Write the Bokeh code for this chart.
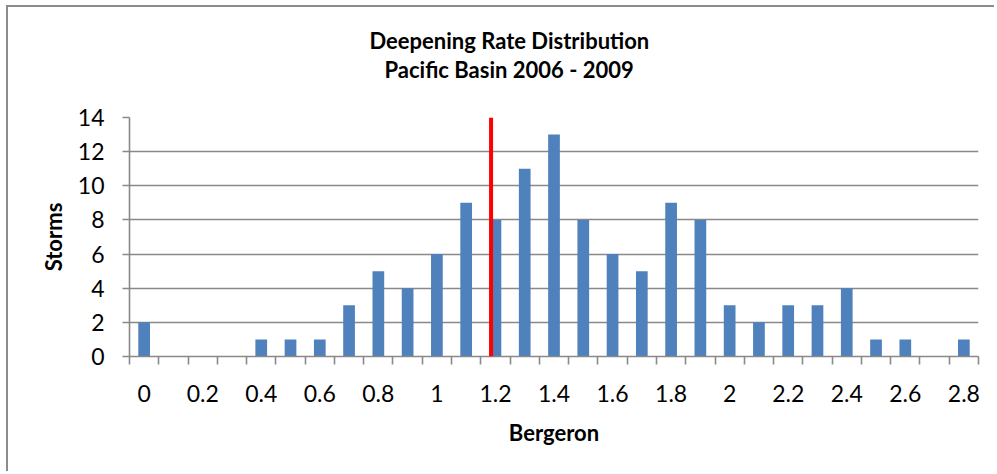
from bokeh.plotting import figure
from bokeh.models import Range1d, FixedTicker, CustomJSTickFormatter, Title, Span, ColumnDataSource
from bokeh.embed import file_html
from bokeh.resources import INLINE

# ---- data ----
bergeron = [0.0, 0.1, 0.2, 0.3, 0.4, 0.5, 0.6, 0.7, 0.8, 0.9,
            1.0, 1.1, 1.2, 1.3, 1.4, 1.5, 1.6, 1.7, 1.8, 1.9,
            2.0, 2.1, 2.2, 2.3, 2.4, 2.5, 2.6, 2.7, 2.8]
storms = [2, 0, 0, 0, 1, 1, 1, 3, 5, 4,
          6, 9, 8, 11, 13, 8, 6, 5, 9, 8,
          3, 2, 3, 3, 4, 1, 1, 0, 1]
x_tick_values = [0.0, 0.2, 0.4, 0.6, 0.8, 1.0, 1.2, 1.4, 1.6, 1.8, 2.0, 2.2, 2.4, 2.6, 2.8]
y_tick_values = [0, 2, 4, 6, 8, 10, 12, 14]
mean_bergeron = 1.185
title_lines = ["Deepening Rate Distribution", "Pacific Basin 2006 - 2009"]

FONT = "Lato"
GRAY = "#898989"

src = ColumnDataSource(dict(x=bergeron, top=storms))

p = figure(width=988, height=466, output_backend="svg", toolbar_location=None,
           title=None,
           x_range=Range1d(-0.05, 2.85), y_range=Range1d(0, 14),
           min_border_left=121, min_border_right=18, min_border_top=110, min_border_bottom=117)
p.outline_line_color = None
p.styles = {"border-top": "2px solid #8c8c8c", "border-left": "2px solid #8c8c8c",
            "margin-left": "6px", "margin-top": "5px"}

p.vbar(x="x", top="top", width=0.04, bottom=0, source=src,
       fill_color="#4F81BD", line_color=None)

p.add_layout(Span(location=mean_bergeron, dimension="height",
                  line_color="#FF0000", line_width=4))

# grid
p.xgrid.grid_line_color = None
p.ygrid.ticker = FixedTicker(ticks=y_tick_values)
p.ygrid.grid_line_color = GRAY
p.ygrid.grid_line_width = 1.6

# x axis
minor = [round(b - 0.05, 2) for b in bergeron] + [2.85]
xa = p.xaxis[0]
xa.ticker = FixedTicker(ticks=x_tick_values, minor_ticks=minor)
xa.formatter = CustomJSTickFormatter(code="return tick.toFixed(1).replace(/\\.0$/, '');")
xa.major_tick_out = 0
xa.major_tick_in = 0
xa.minor_tick_out = 8
xa.minor_tick_in = 0
xa.minor_tick_line_color = GRAY
xa.minor_tick_line_width = 1.6
xa.axis_line_color = GRAY
xa.axis_line_width = 1.6
xa.major_label_text_font = FONT
xa.major_label_text_font_size = "23px"
xa.major_label_text_color = "black"
xa.major_label_standoff = 20
xa.axis_label = "Bergeron"
xa.axis_label_text_font = FONT
xa.axis_label_text_font_style = "bold"
xa.axis_label_text_font_size = "22px"
xa.axis_label_text_color = "black"
xa.axis_label_standoff = 14

# y axis
ya = p.yaxis[0]
ya.ticker = FixedTicker(ticks=y_tick_values)
ya.major_tick_out = 7
ya.major_tick_in = 0
ya.minor_tick_out = 0
ya.minor_tick_in = 0
ya.major_tick_line_color = GRAY
ya.major_tick_line_width = 1.6
ya.axis_line_color = GRAY
ya.axis_line_width = 1.6
ya.major_label_text_font = FONT
ya.major_label_text_font_size = "23px"
ya.major_label_text_color = "black"
ya.major_label_standoff = 18
ya.axis_label = "Storms"
ya.axis_label_text_font = FONT
ya.axis_label_text_font_style = "bold"
ya.axis_label_text_font_size = "22px"
ya.axis_label_text_color = "black"
ya.axis_label_standoff = 8

# title: spacer closest to the frame, then line 2, then line 1
p.add_layout(Title(text=" ", text_font_size="30px", standoff=0), "above")
title_offsets = [240, 255]
for line, off in reversed(list(zip(title_lines, title_offsets))):
    p.add_layout(Title(text=line, align="left", offset=off, standoff=0,
                       text_font=FONT, text_font_style="bold", text_font_size="22px",
                       text_color="black"), "above")

open("out.html", "w").write(file_html(p, INLINE))
